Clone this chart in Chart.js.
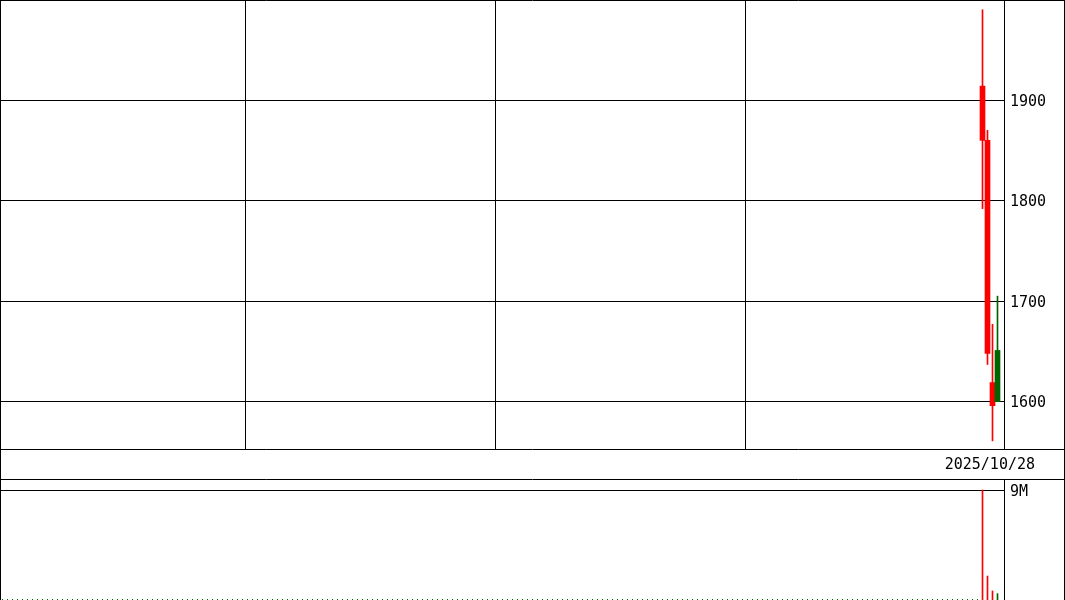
<!DOCTYPE html>
<html><head><meta charset="utf-8">
<script src="https://cdn.jsdelivr.net/npm/chart.js@4.4.1/dist/chart.umd.min.js"></script>
<style>
html,body{margin:0;padding:0;background:#fff;overflow:hidden}
#wrap{position:relative;width:1065px;height:600px}
#price{position:absolute;left:0;top:0;width:1065px;height:480px}
#vol{position:absolute;left:0;top:480px;width:1065px;height:120px}
</style></head><body>
<div id="wrap">
<canvas id="price" width="1065" height="480"></canvas>
<canvas id="vol" width="1065" height="120"></canvas>
</div>
<script>
// ---- data ----
const dates   = ['2025/10/23', '2025/10/24', '2025/10/27', '2025/10/28'];
const opens   = [1914, 1860, 1619, 1600];
const highs   = [1990, 1870, 1677, 1705];
const lows    = [1792, 1637, 1561, 1600];
const closes  = [1860, 1648, 1596, 1651];
const volumes = [9000000, 1960000, 740000, 520000];
const priceTicks  = [1600, 1700, 1800, 1900];
const volumeTicks = [9000000];
const slotCount = 200;               // day slots across the x axis
const dividerSlots = [48.6, 98.6, 148.6];

const UP = '#006400', DOWN = '#ff0000';
const FONT = {family: '"DejaVu Sans Mono", monospace', size: 15};
const firstSlot = slotCount - dates.length;
const xs = dates.map((d, i) => firstSlot + i);
const colors = dates.map((d, i) => closes[i] >= opens[i] ? UP : DOWN);

const noPad = s => { s.paddingTop = 0; s.paddingBottom = 0; s.paddingLeft = 0; s.paddingRight = 0; };

const xScale = (showGrid) => ({
  type: 'linear', min: -0.5, max: slotCount + 0.3, offset: false,
  ticks: {display: false},
  grid: {display: showGrid, offset: false, color: '#000', lineWidth: 1, drawTicks: false},
  border: {display: false},
  afterBuildTicks: s => { s.ticks = showGrid ? dividerSlots.map(v => ({value: v})) : []; },
  afterFit: s => { s.height = 0; noPad(s); }
});

function line(ctx, x1, y1, x2, y2) {
  ctx.beginPath(); ctx.moveTo(x1, y1); ctx.lineTo(x2, y2); ctx.stroke();
}

const priceFrame = {
  id: 'priceFrame',
  afterDraw(chart) {
    const ctx = chart.ctx, a = chart.chartArea;
    ctx.save();
    ctx.strokeStyle = '#000'; ctx.lineWidth = 1;
    const r = Math.round(a.right) + 0.5, b = Math.round(a.bottom) + 0.5;
    line(ctx, 0, 0.5, 1065, 0.5);
    line(ctx, 0.5, 0, 0.5, 480);
    line(ctx, 1064.5, 0, 1064.5, 480);
    line(ctx, r, 0, r, b);
    line(ctx, 0, b, 1065, b);
    line(ctx, 0, 479.5, 1065, 479.5);
    ctx.fillStyle = '#000';
    ctx.font = '15px "DejaVu Sans Mono", monospace';
    ctx.textAlign = 'right'; ctx.textBaseline = 'middle';
    ctx.fillText(dates[dates.length - 1], 1035, b + 16);
    ctx.restore();
  }
};

new Chart(document.getElementById('price'), {
  type: 'bar',
  data: {
    datasets: [
      {
        data: xs.map((x, i) => ({x: x, y: [lows[i], highs[i]]})),
        backgroundColor: colors, borderWidth: 0, barThickness: 1, grouped: false, order: 2
      },
      {
        data: xs.map((x, i) => ({x: x, y: [opens[i], closes[i]]})),
        backgroundColor: colors, borderWidth: 0, barThickness: 5, grouped: false, order: 1
      }
    ]
  },
  options: {
    responsive: false, animation: false, devicePixelRatio: 1,
    layout: {padding: {left: 0, right: 0, top: 0, bottom: 31}},
    plugins: {legend: {display: false}, tooltip: {enabled: false}},
    scales: {
      x: xScale(true),
      y: {
        position: 'right', min: 1552.9, max: 1999.7,
        afterBuildTicks: s => { s.ticks = priceTicks.map(v => ({value: v})); },
        afterFit: s => { s.width = 61; noPad(s); },
        ticks: {color: '#000', font: FONT, padding: 6, labelOffset: 1.5, callback: v => String(v)},
        grid: {color: '#000', lineWidth: 1, drawTicks: false},
        border: {display: false}
      }
    }
  },
  plugins: [priceFrame]
});

const volFrame = {
  id: 'volFrame',
  afterDraw(chart) {
    const ctx = chart.ctx, a = chart.chartArea, xsScale = chart.scales.x;
    ctx.save();
    ctx.fillStyle = UP;
    for (let i = 0; i < firstSlot; i++) {
      ctx.fillRect(Math.floor(xsScale.getPixelForValue(i)), Math.round(a.bottom) - 1, 1, 1);
    }
    ctx.strokeStyle = '#000'; ctx.lineWidth = 1;
    const r = Math.round(a.right) + 0.5;
    line(ctx, 0.5, 0, 0.5, 120);
    line(ctx, r, 0, r, 120);
    line(ctx, 1064.5, 0, 1064.5, 120);
    ctx.restore();
  }
};

new Chart(document.getElementById('vol'), {
  type: 'bar',
  data: {
    datasets: [{
      data: xs.map((x, i) => ({x: x, y: volumes[i]})),
      backgroundColor: colors, borderWidth: 0, barThickness: 1
    }]
  },
  options: {
    responsive: false, animation: false, devicePixelRatio: 1,
    layout: {padding: 0},
    plugins: {legend: {display: false}, tooltip: {enabled: false}},
    scales: {
      x: xScale(false),
      y: {
        position: 'right', min: 0, max: 9000000 * 120 / 110,
        afterBuildTicks: s => { s.ticks = volumeTicks.map(v => ({value: v})); },
        afterFit: s => { s.width = 61; noPad(s); },
        ticks: {color: '#000', font: FONT, padding: 6, labelOffset: 2.5, callback: v => (v / 1e6) + 'M'},
        grid: {color: '#000', lineWidth: 1, drawTicks: false},
        border: {display: false}
      }
    }
  },
  plugins: [volFrame]
});
</script>
</body></html>
